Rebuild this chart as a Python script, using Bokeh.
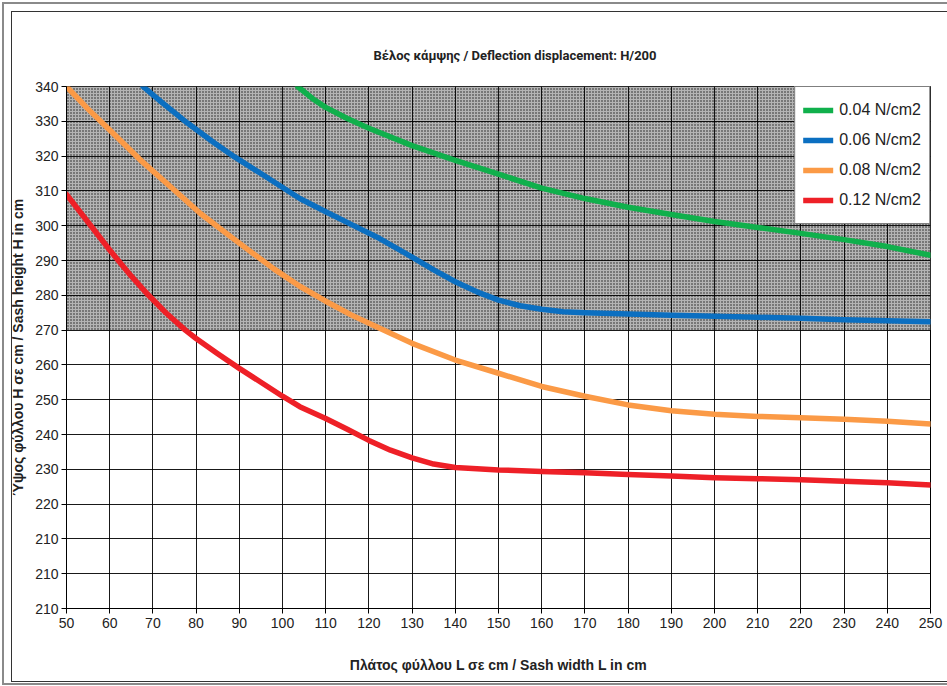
from bokeh.plotting import figure
from bokeh.models import Title, Legend, LegendItem, FixedTicker, InlineStyleSheet
from bokeh.embed import file_html
from bokeh.resources import INLINE

# ---- data ----
x_ticks = list(range(50, 251, 10))
y_ticks = list(range(190, 341, 10))
y_tick_labels = ["210", "210", "210", "220", "230", "240", "250", "260", "270",
                 "280", "290", "300", "310", "320", "330", "340"]

zone_bottom = 270
zone_top = 340

green_L = [103.5, 107, 110, 115, 120, 130, 140, 150, 160, 170, 180, 190, 200, 210, 220, 230, 240, 250]
green_H = [340, 336.5, 334, 330.8, 328, 323, 318.8, 314.8, 310.8, 307.8, 305.3, 303.2, 301.2, 299.5, 297.8, 296, 294, 291.5]

blue_L = [67.7, 72, 78, 84, 89, 95, 104, 110, 116, 122.5, 130, 135, 140, 145, 150, 155, 160, 165, 170,
          180, 190, 200, 210, 220, 230, 240, 250]
blue_H = [340, 335.5, 329.5, 324, 319.7, 315, 307.8, 304, 300.3, 296.3, 291, 287.3, 283.9, 281, 278.6, 277, 276, 275.3, 275,
          274.6, 274.3, 274, 273.7, 273.4, 273, 272.7, 272.4]

orange_L = [50, 55, 60, 67, 75, 81, 87, 93, 98, 104, 110, 116, 122.5, 130, 140, 150, 160, 170,
            180, 190, 200, 210, 220, 230, 240, 250]
orange_H = [340, 333.5, 327.5, 319, 310.2, 303.5, 297.8, 292.2, 287.6, 282.6, 278.3, 274.3, 270.5, 266.2, 261.4, 257.6, 253.8, 251,
            248.5, 246.8, 245.8, 245.2, 244.8, 244.4, 243.8, 243]

red_L = [50, 55, 60, 65, 69, 73, 77.5, 80, 85, 90, 95, 100, 104, 110, 115, 120, 125, 130, 135, 140,
         150, 160, 170, 180, 190, 200, 210, 220, 230, 240, 250]
red_H = [309, 301, 293, 285.5, 280, 275, 270, 267.6, 263.2, 259, 255, 251, 248, 244.6, 241.5, 238.3, 235.5, 233.3, 231.5, 230.5,
         229.8, 229.4, 229, 228.5, 228.1, 227.6, 227.3, 227, 226.6, 226.1, 225.5]

series_labels = ["0.04 N/cm2", "0.06 N/cm2", "0.08 N/cm2", "0.12 N/cm2"]
series_colors = ["#10b04c", "#0b6fc1", "#fb9a46", "#ee2027"]

title_text = "Βέλος κάμψης  / Deflection displacement: H/200"
x_label = "Πλάτος φύλλου L σε cm / Sash width L in cm"
y_label = "Ύψος φύλλου Η σε cm / Sash height H in cm"

# ---- figure ----
p = figure(width=947, height=686, x_range=(50, 250), y_range=(190, 340),
           output_backend="svg", toolbar_location=None, title=None,
           min_border_left=66, min_border_right=17, min_border_top=86, min_border_bottom=78,
           background_fill_color="white", border_fill_color="white")

# page frames (drawn with CSS on top of the canvas)
frame_css = """
:host { position: relative; }
:host::before { content: ""; position: absolute; left: 2px; top: 2px; right: 0px; bottom: 1px;
  border: 2px solid #8a8a8a; border-right: none; pointer-events: none; z-index: 100; }
:host::after { content: ""; position: absolute; left: 11px; top: 11px; right: 0px; bottom: 4px;
  border: 1px solid #333; border-right: none; pointer-events: none; z-index: 101; }
"""
p.stylesheets = [InlineStyleSheet(css=frame_css)]

# blank spacer panel next to the frame, then the title above it
p.add_layout(Title(text="\u00a0", text_color="white", text_font_size="16px", standoff=0), "above")
p.add_layout(Title(text=title_text, align="left", offset=307, text_font="Roboto",
                   text_font_size="13px", text_font_style="bold", text_color="#222"), "above")

p.outline_line_color = "black"
p.outline_line_width = 1

# hatched zone
p.quad(left=[x_ticks[0]], right=[x_ticks[-1]], bottom=[zone_bottom], top=[zone_top],
       fill_color="#b4b4b4", hatch_pattern="dot", hatch_color="#1a1a1a", hatch_scale=3,
       hatch_weight=1, line_color=None, level="image")

# grids
for g in (p.xgrid, p.ygrid):
    g.grid_line_color = "black"
    g.grid_line_width = 1
    g.grid_line_alpha = 0.9
p.xaxis.ticker = FixedTicker(ticks=x_ticks)
p.yaxis.ticker = FixedTicker(ticks=y_ticks)
p.xgrid.ticker = FixedTicker(ticks=x_ticks)
p.ygrid.ticker = FixedTicker(ticks=y_ticks)
p.yaxis.major_label_overrides = {t: lab for t, lab in zip(y_ticks, y_tick_labels)}

for ax in (p.xaxis, p.yaxis):
    ax.axis_line_color = "black"
    ax.major_tick_line_color = "black"
    ax.major_tick_out = 5
    ax.major_tick_in = 0
    ax.minor_tick_line_color = None
    ax.major_label_text_font = "Liberation Sans"
    ax.major_label_text_font_size = "14px"
    ax.major_label_text_color = "#222"
    ax.axis_label_text_font = "Liberation Sans"
    ax.axis_label_text_font_size = "14px"
    ax.axis_label_text_font_style = "bold"
    ax.axis_label_text_color = "#222"

p.xaxis.axis_label = x_label
p.yaxis.axis_label = y_label
p.xaxis.major_label_standoff = 4
p.xaxis.axis_label_standoff = 26
p.yaxis.major_label_standoff = 3
p.yaxis.axis_label_standoff = 6

items = []
for L, H, lab, col in zip([green_L, blue_L, orange_L, red_L],
                          [green_H, blue_H, orange_H, red_H],
                          series_labels, series_colors):
    r = p.line(L, H, line_color=col, line_width=5.5, line_cap="round", line_join="round")
    items.append(LegendItem(label=lab, renderers=[r]))

legend = Legend(items=items, location="top_right", margin=0, padding=8,
                spacing=0, glyph_width=30, glyph_height=30, label_height=30, label_standoff=6,
                label_text_font="Liberation Sans", label_text_font_size="16px",
                label_text_color="#222", border_line_color="black", border_line_width=1,
                background_fill_color="white", background_fill_alpha=1)
p.add_layout(legend)

open("out.html", "w").write(file_html(p, INLINE))
